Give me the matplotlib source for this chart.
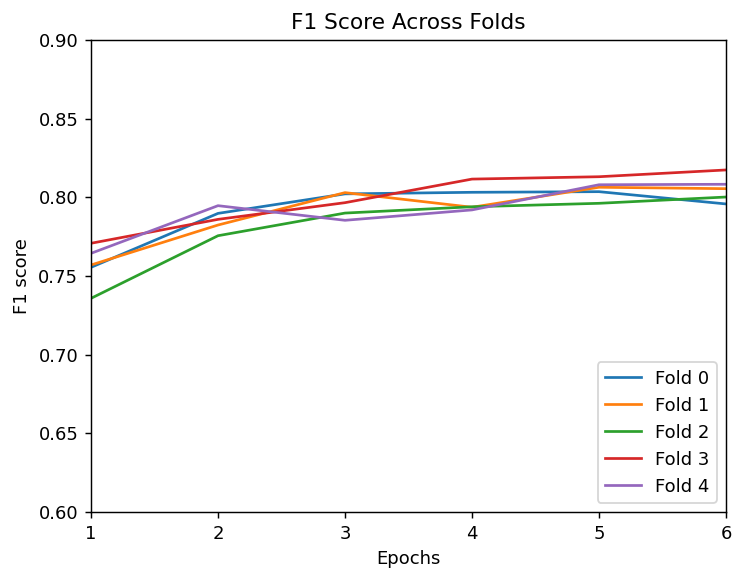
import matplotlib
matplotlib.use("Agg")
import matplotlib.pyplot as plt

epochs = [1, 2, 3, 4, 5, 6]
fold_0 = [0.7555, 0.7898, 0.8022, 0.8032, 0.8036, 0.7958]
fold_1 = [0.7570, 0.7824, 0.8030, 0.7937, 0.8064, 0.8055]
fold_2 = [0.7358, 0.7756, 0.7900, 0.7940, 0.7962, 0.8002]
fold_3 = [0.7708, 0.7860, 0.7966, 0.8116, 0.8131, 0.8174]
fold_4 = [0.7644, 0.7947, 0.7854, 0.7920, 0.8080, 0.8083]
labels = ["Fold 0", "Fold 1", "Fold 2", "Fold 3", "Fold 4"]

W, H = 734, 571
DPI = 130
fig = plt.figure(figsize=(W / DPI, H / DPI), dpi=DPI)
ax = fig.add_axes([91 / W, 1 - 512 / H, (726 - 91) / W, (512 - 40) / H])

for series, lab in zip([fold_0, fold_1, fold_2, fold_3, fold_4], labels):
    ax.plot(epochs, series, label=lab)

ax.set_xlim(1, 6)
ax.set_ylim(0.60, 0.90)
ax.set_title("F1 Score Across Folds")
ax.set_xlabel("Epochs")
ax.set_ylabel("F1 score")
ax.legend(loc="lower right")

fig.savefig("out.png", dpi=DPI)
